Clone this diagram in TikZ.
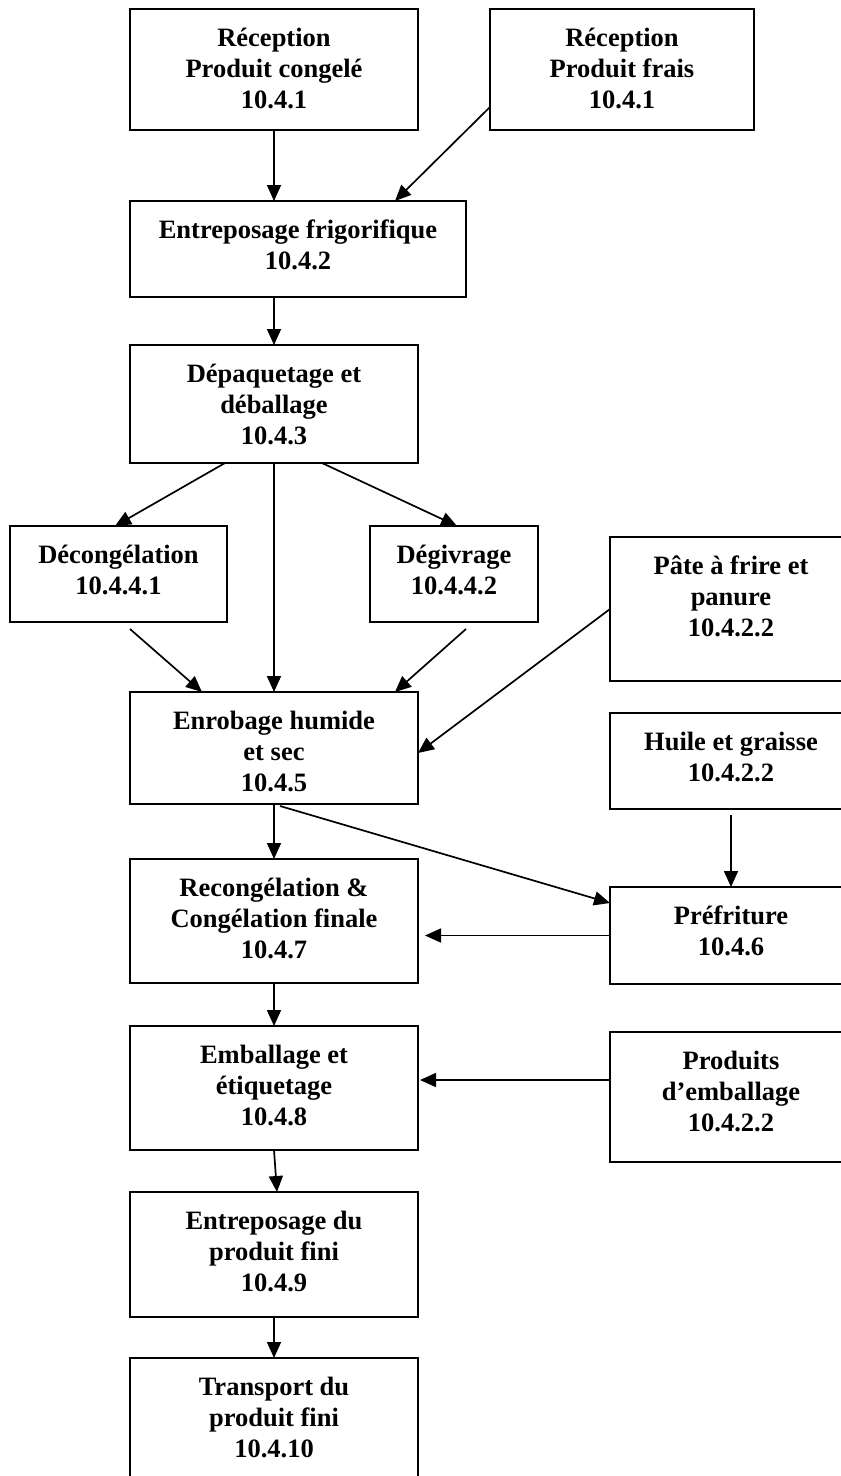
\documentclass[tikz,border=0pt]{standalone}
\usepackage{fontspec}
\setmainfont{Liberation Serif}
\usetikzlibrary{arrows.meta}

\tikzset{
  boxst/.style={draw, line width=2.2pt, rectangle, inner sep=0pt, outer sep=0pt},
  txt/.style={align=center, inner sep=0pt, font=\fontsize{26.5}{31}\selectfont\bfseries},
  flow/.style={line width=1.7pt, -{Triangle[length=16pt,width=14pt]}},
}

% name, left, top, right, bottom, label
\newcommand\procbox[6]{%
  \node[boxst, minimum width={#4pt-#2pt}, minimum height={#5pt-#3pt}] (#1)
    at ({(#2+#4)/2},{(#3+#5)/2}) {};
  \node[txt, anchor=north] (#1-t) at ([yshift=-17pt]#1.north)
    {\rule{0pt}{20pt}#6};
}

\begin{document}
\begin{tikzpicture}[x=1pt, y=-1pt]
  \useasboundingbox (0,0) rectangle (841,1476);
  \clip (0,0) rectangle (841,1476);
  \fill[white] (0,0) rectangle (841,1476);

  % main column
  \procbox{rc1}{130}{9}{418}{130}{Réception\\Produit congelé\\10.4.1}
  \procbox{rc2}{490}{9}{754}{130}{Réception\\Produit frais\\10.4.1}
  \procbox{ent}{130}{201}{466}{297}{Entreposage frigorifique\\10.4.2}
  \procbox{dep}{130}{345}{418}{463}{Dépaquetage et\\déballage\\10.4.3}
  \procbox{deco}{10}{526}{227}{622}{Décongélation\\10.4.4.1}
  \procbox{degi}{370}{526}{538}{622}{Dégivrage\\10.4.4.2}
  \procbox{enr}{130}{692}{418}{804}{Enrobage humide\\et sec\\10.4.5}
  \procbox{recong}{130}{859}{418}{983}{Recongélation \&\\Congélation finale\\10.4.7}
  \procbox{emb}{130}{1026}{418}{1150}{Emballage et\\étiquetage\\10.4.8}
  \procbox{entf}{130}{1192}{418}{1317}{Entreposage du\\produit fini\\10.4.9}
  \procbox{trans}{130}{1358}{418}{1500}{Transport du\\produit fini\\10.4.10}

  % inputs on the right
  \procbox{pate}{610}{537}{852}{681}{Pâte à frire et\\panure\\10.4.2.2}
  \procbox{huile}{610}{713}{852}{809}{Huile et graisse\\10.4.2.2}
  \procbox{pref}{610}{887}{852}{984}{Préfriture\\10.4.6}
  \procbox{prod}{610}{1032}{852}{1162}{Produits\\d’emballage\\10.4.2.2}

  % connectors
  \draw[flow] (rc1.south) -- (rc1.south |- ent.north);
  \draw[flow] ([yshift=-37.5pt]rc2.west) -- ([xshift=97pt]ent.north);
  \draw[flow] ([xshift=-24pt]ent.south) -- (dep.north);
  \draw[flow] ([xshift=-49pt]dep.south) -- ([xshift=-3.5pt]deco.north);
  \draw[flow] (dep.south) -- (enr.north);
  \draw[flow] ([xshift=48pt]dep.south) -- ([xshift=3pt]degi.north);
  \draw[flow] ([xshift=11.5pt,yshift=-7pt]deco.south) -- ([xshift=-72pt]enr.north);
  \draw[flow] ([xshift=12pt,yshift=-7pt]degi.south) -- ([xshift=121pt]enr.north);
  \draw[flow] (pate.west) -- ([yshift=-5pt]enr.east);
  \draw[flow] (enr.south) -- (recong.north);
  \draw[flow] ([xshift=6pt,yshift=-2pt]enr.south) -- ([yshift=32.5pt]pref.west);
  \draw[flow] ([yshift=-6pt]huile.south) -- (pref.north);
  \draw[flow] (pref.west) -- ([xshift=7pt,yshift=-14.5pt]recong.east);
  \draw[flow] (recong.south) -- (emb.north);
  \draw[flow] ([yshift=17pt]prod.west) -- ([xshift=2pt,yshift=8pt]emb.east);
  \draw[flow] (emb.south) -- ([xshift=3pt]entf.north);
  \draw[flow] (entf.south) -- (trans.north);
\end{tikzpicture}
\end{document}
